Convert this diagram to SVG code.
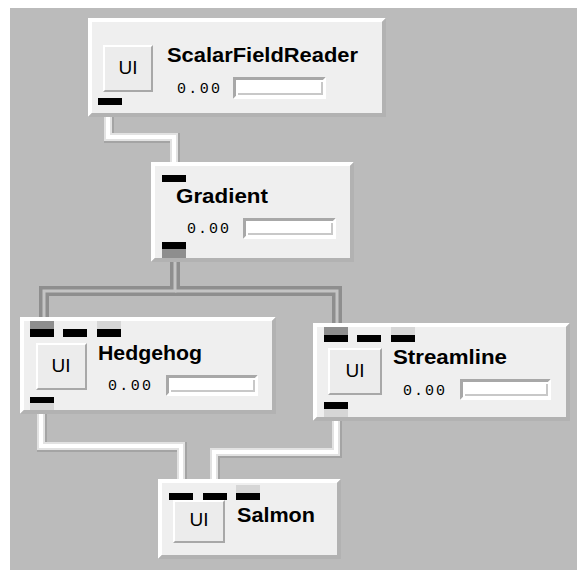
<svg xmlns="http://www.w3.org/2000/svg" width="577" height="570" viewBox="0 0 577 570">
<style>
.face{fill:#efefef}
.hl{fill:#ffffff}
.sh{fill:#b2b2b2}
.port{fill:#000000}
.title{font-family:"Liberation Sans",Arial,sans-serif;font-weight:bold;font-size:20px;fill:#000}
.ui{font-family:"Liberation Sans",Arial,sans-serif;font-size:19px;fill:#000;text-anchor:middle}
.num{font-family:"Liberation Mono","DejaVu Sans Mono",monospace;font-size:15px;fill:#000}
.ps{fill:none;stroke-linejoin:miter;stroke-linecap:butt}
.w0{stroke:#a4a4a4;stroke-width:10}
.w1{stroke:#e2e2e2;stroke-width:8}
.w2{stroke:#ffffff;stroke-width:4}
.d1{stroke:#8e8e8e;stroke-width:10}
.d2{stroke:#c4c4c4;stroke-width:3}
.btnface{fill:#ececec}
.btnsh{fill:#a8a8a8}
.barsh{fill:#a8a8a8}
.barface{fill:#ffffff}
.barin{fill:#c8c8c8}
.dk{fill:#8e8e8e}
.lt{fill:#d6d6d6}
</style>
<rect x="0" y="0" width="577" height="570" fill="#ffffff"/>
<rect x="10" y="8" width="567" height="562" fill="#bbbbbb"/>

<g id="connectors">
  <g transform="translate(1,1)"><polyline class="ps w0" points="108,113 108,137 174,137 174,166"/></g>
  <polyline class="ps w1" points="108,113 108,137 174,137 174,166"/>
  <g transform="translate(-2,-2)"><polyline class="ps w2" points="110,115 110,139 176,139 176,168"/></g>
  <polyline class="ps d1" points="175,258 175,291 44,291 44,321"/>
  <polyline class="ps d1" points="175,291 337,291 337,326"/>
  <g transform="translate(-3.5,-3.5)"><polyline class="ps d2" points="178.5,261 178.5,294.5 47.5,294.5 47.5,324"/><polyline class="ps d2" points="178.5,294.5 340.5,294.5 340.5,329"/></g>
  <g transform="translate(1,1)"><polyline class="ps w0" points="41,410 41,446 181,446 181,482"/></g>
  <polyline class="ps w1" points="41,410 41,446 181,446 181,482"/>
  <g transform="translate(-2,-2)"><polyline class="ps w2" points="43,412 43,448 183,448 183,484"/></g>
  <g transform="translate(1,1)"><polyline class="ps w0" points="336,416 336,452 214,452 214,482"/></g>
  <polyline class="ps w1" points="336,416 336,452 214,452 214,482"/>
  <g transform="translate(-2,-2)"><polyline class="ps w2" points="338,418 338,454 216,454 216,484"/></g>
</g>

<g id="node-scalarfieldreader">
  <polygon class="hl" points="88,18 386,18 382,22 92,22 92,113 88,117"/>
  <polygon class="sh" points="386,18 386,117 88,117 92,113 382,113 382,22"/>
  <rect class="face" x="92" y="22" width="290" height="91"/>
  <polygon class="hl" points="103,45 153,45 151,47 105,47 105,90 103,92"/>
  <polygon class="btnsh" points="153,45 153,92 103,92 105,90 151,90 151,47"/>
  <rect class="btnface" x="105" y="47" width="46" height="43"/>
  <text class="ui" x="128" y="74">UI</text>
  <text class="title" x="167" y="62" textLength="191" lengthAdjust="spacingAndGlyphs">ScalarFieldReader</text>
  <text class="num" x="177" y="93" textLength="43">0.00</text>
  <polygon class="barsh" points="233,77 326,77 323,80 236,80 236,96 233,99"/>
  <polygon class="hl" points="326,77 326,99 233,99 236,96 323,96 323,80"/>
  <rect class="barface" x="236" y="80" width="87" height="16"/>
  <rect class="barin" x="238" y="93" width="85" height="2"/>
  <rect class="barin" x="321" y="82" width="2" height="13"/>
  <rect class="port" x="98" y="98" width="24" height="7"/>
</g>

<g id="node-gradient">
  <polygon class="hl" points="151,162 354,162 350,166 155,166 155,258 151,262"/>
  <polygon class="sh" points="354,162 354,262 151,262 155,258 350,258 350,166"/>
  <rect class="face" x="155" y="166" width="195" height="92"/>
  <rect class="dk" x="162" y="248" width="24" height="10"/>
  <text class="title" x="176" y="203" textLength="92" lengthAdjust="spacingAndGlyphs">Gradient</text>
  <text class="num" x="187" y="233" textLength="42">0.00</text>
  <polygon class="barsh" points="243,218 336,218 333,221 246,221 246,236 243,239"/>
  <polygon class="hl" points="336,218 336,239 243,239 246,236 333,236 333,221"/>
  <rect class="barface" x="246" y="221" width="87" height="15"/>
  <rect class="barin" x="248" y="233" width="85" height="2"/>
  <rect class="barin" x="331" y="223" width="2" height="12"/>
  <rect class="port" x="162" y="175" width="24" height="7"/>
  <rect class="port" x="162" y="242" width="24" height="7"/>
</g>

<g id="node-hedgehog">
  <polygon class="hl" points="20,317 276,317 272,321 24,321 24,410 20,414"/>
  <polygon class="sh" points="276,317 276,414 20,414 24,410 272,410 272,321"/>
  <rect class="face" x="24" y="321" width="248" height="89"/>
  <rect class="dk" x="30" y="321" width="24" height="8"/>
  <rect class="lt" x="97" y="321" width="24" height="8"/>
  <rect class="lt" x="30" y="403" width="24" height="7"/>
  <polygon class="hl" points="36,343 87,343 85,345 38,345 38,388 36,390"/>
  <polygon class="btnsh" points="87,343 87,390 36,390 38,388 85,388 85,345"/>
  <rect class="btnface" x="38" y="345" width="47" height="43"/>
  <text class="ui" x="61" y="372">UI</text>
  <text class="title" x="98" y="360" textLength="104" lengthAdjust="spacingAndGlyphs">Hedgehog</text>
  <text class="num" x="108" y="390" textLength="43">0.00</text>
  <polygon class="barsh" points="166,375 258,375 255,378 169,378 169,393 166,396"/>
  <polygon class="hl" points="258,375 258,396 166,396 169,393 255,393 255,378"/>
  <rect class="barface" x="169" y="378" width="86" height="15"/>
  <rect class="barin" x="171" y="390" width="84" height="2"/>
  <rect class="barin" x="253" y="380" width="2" height="12"/>
  <rect class="port" x="30" y="329" width="24" height="8"/>
  <rect class="port" x="63" y="329" width="24" height="8"/>
  <rect class="port" x="97" y="329" width="24" height="8"/>
  <rect class="port" x="30" y="397" width="24" height="6"/>
</g>

<g id="node-streamline">
  <polygon class="hl" points="313,323 570,323 566,327 317,327 317,417 313,421"/>
  <polygon class="sh" points="570,323 570,421 313,421 317,417 566,417 566,327"/>
  <rect class="face" x="317" y="327" width="249" height="90"/>
  <rect class="dk" x="324" y="327" width="24" height="8"/>
  <rect class="lt" x="391" y="327" width="24" height="8"/>
  <rect class="lt" x="324" y="409" width="24" height="8"/>
  <polygon class="hl" points="328,348 382,348 380,350 330,350 330,393 328,395"/>
  <polygon class="btnsh" points="382,348 382,395 328,395 330,393 380,393 380,350"/>
  <rect class="btnface" x="330" y="350" width="50" height="43"/>
  <text class="ui" x="355" y="377">UI</text>
  <text class="title" x="393" y="364" textLength="114" lengthAdjust="spacingAndGlyphs">Streamline</text>
  <text class="num" x="403" y="395" textLength="42">0.00</text>
  <polygon class="barsh" points="460,379 551,379 548,382 463,382 463,397 460,400"/>
  <polygon class="hl" points="551,379 551,400 460,400 463,397 548,397 548,382"/>
  <rect class="barface" x="463" y="382" width="85" height="15"/>
  <rect class="barin" x="465" y="394" width="83" height="2"/>
  <rect class="barin" x="546" y="384" width="2" height="12"/>
  <rect class="port" x="324" y="335" width="24" height="7"/>
  <rect class="port" x="357" y="335" width="24" height="7"/>
  <rect class="port" x="391" y="335" width="24" height="7"/>
  <rect class="port" x="324" y="402" width="24" height="7"/>
</g>

<g id="node-salmon">
  <polygon class="hl" points="158,479 341,479 337,483 162,483 162,555 158,559"/>
  <polygon class="sh" points="341,479 341,559 158,559 162,555 337,555 337,483"/>
  <rect class="face" x="162" y="483" width="175" height="72"/>
  <rect class="lt" x="236" y="485" width="24" height="8"/>
  <polygon class="hl" points="173,500 225,500 223,502 175,502 175,541 173,543"/>
  <polygon class="btnsh" points="225,500 225,543 173,543 175,541 223,541 223,502"/>
  <rect class="btnface" x="175" y="502" width="48" height="39"/>
  <text class="ui" x="199" y="526">UI</text>
  <text class="title" x="237" y="522" textLength="78" lengthAdjust="spacingAndGlyphs">Salmon</text>
  <rect class="port" x="169" y="493" width="24" height="7"/>
  <rect class="port" x="203" y="493" width="24" height="7"/>
  <rect class="port" x="236" y="493" width="24" height="7"/>
</g>
</svg>
